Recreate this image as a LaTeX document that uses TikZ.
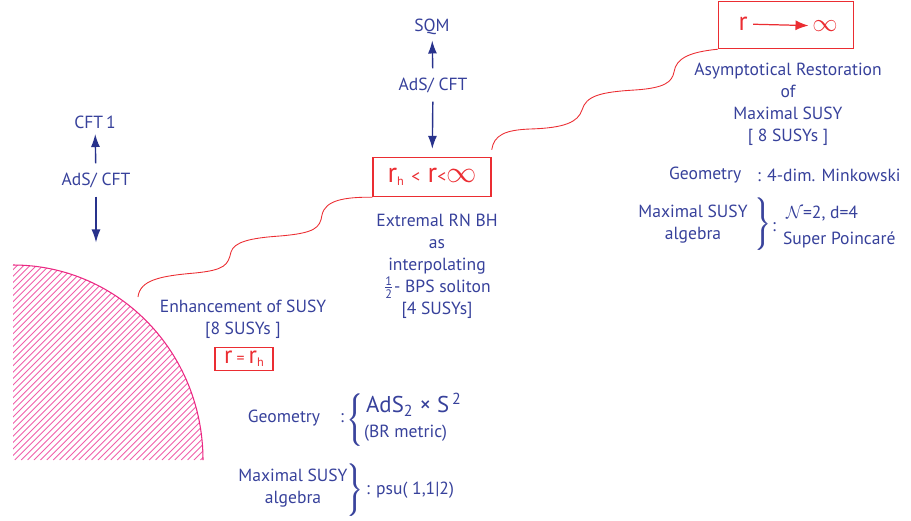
\documentclass[tikz,border=0pt]{standalone}
\usepackage{amsmath}
\usepackage{fontspec}
\setmainfont{PT Sans}
\usetikzlibrary{arrows.meta,positioning}
\definecolor{susyblue}{RGB}{55,65,155}
\definecolor{arrblue}{RGB}{40,50,140}
\definecolor{bhred}{RGB}{235,45,50}
\definecolor{hatchpink}{RGB}{235,40,130}
\definecolor{hatchlight}{RGB}{240,95,170}
\newcommand{\rsub}[1]{\raisebox{-1.5pt}{\fontsize{7}{7}\selectfont #1}}
\newcommand{\fatbrace}[1]{\rlap{$\Bigg#1$}\hspace{0.8pt}$\Bigg#1$}

\begin{document}
\begin{tikzpicture}[x=0.02cm, y=-0.02cm,
  lbl/.style={text=susyblue, font=\fontsize{10}{12.5}\selectfont, align=center, inner sep=1pt},
  rbox/.style={draw=bhred, line width=0.8pt, text=bhred, inner sep=0pt},
  adsarrow/.style={-{Latex[length=2.6mm,width=1.8mm]}, draw=arrblue, line width=0.8pt, shorten <=4pt, shorten >=2pt},
  wavy/.style={draw=bhred, line width=0.5pt},
  brc/.style={text=susyblue, inner sep=0pt}
]
\useasboundingbox (0,0) rectangle (911,520);

% near horizon region
\begin{scope}
  \clip (13,265) .. controls (118,265) and (203,352) .. (203,460) -- (13,460) -- cycle;
  \foreach \i in {0,...,64}
    \draw[hatchlight, line width=0.5pt] (-190+\i*6.4,460) -- ++(200,-200);
\end{scope}
\draw[hatchpink, line width=0.6pt] (13,265) .. controls (118,265) and (203,352) .. (203,460);

\node[lbl] (cft1) at (95,122) {CFT\,1};
\node[lbl] (adsl) at (96,180) {AdS/ CFT};
\coordinate (hor) at (96,246);
\draw[adsarrow] (adsl) -- (cft1);
\draw[adsarrow] (adsl) -- (hor);

\node[lbl] (enh) at (243,319) {Enhancement of SUSY\\{[}8 SUSYs ]};
\node[rbox, minimum width=1.16cm, minimum height=0.46cm] (rh) at (244,359)
  {\fontsize{14}{14}\selectfont r\,{\fontsize{9}{9}\selectfont =}\,r\rsub{h}};

\node[lbl] (geob) at (284,418) {Geometry};
\node[lbl] (colb) at (342,418) {:};
\node[brc] (brb) at (355,420) {\fatbrace\{};
\node[lbl, anchor=west, font=\fontsize{13}{13}\selectfont] (adss) at (364,405) {AdS\textsubscript{2} × S\textsuperscript{\,2}};
\node[lbl, anchor=west] (brm) at (362,433) {(BR metric)};

\node[lbl] (algb) at (293,488) {Maximal SUSY\\algebra};
\node[brc] (brcb) at (355,490) {\fatbrace\}};
\node[lbl, anchor=west] (psu) at (364,490) {: psu( 1,1|2)};

% interpolating soliton
\node[lbl] (sqm) at (432,27) {SQM};
\node[lbl] (adsm) at (433,85) {AdS/ CFT};
\node[rbox, minimum width=2.36cm, minimum height=0.78cm] (mid) at (432,177)
  {\fontsize{16}{16}\selectfont r\rsub{h}\ {\fontsize{10}{10}\selectfont<}\ r{\fontsize{10}{10}\selectfont<}$\infty$};
\draw[adsarrow] (adsm) -- (sqm);
\draw[adsarrow, shorten >=4.5pt] (adsm) -- (mid);

\node[lbl] (ext) at (437,266) {Extremal RN BH\\as\\interpolating\\$\tfrac{\text{1}}{\text{2}}$- BPS soliton\\{[}4 SUSYs]};

% asymptotic region
\node[rbox, minimum width=2.7cm, minimum height=0.94cm] (top) at (786,25) {};
\node[text=bhred, font=\fontsize{15}{15}\selectfont, inner sep=1pt] (rr) at (743,24) {r};
\node[text=bhred, font=\fontsize{15}{15}\selectfont, inner sep=1pt] (inf) at (825,26) {$\infty$};
\draw[-{Latex[length=2.6mm,width=2mm]}, bhred, line width=0.7pt, shorten <=2pt, shorten >=1pt] (rr) -- (inf);

\node[lbl] (asym) at (788,104) {Asymptotical Restoration\\of\\Maximal SUSY\\{[} 8 SUSYs ]};
\node[lbl, anchor=west] (geot) at (667,175) {Geometry};
\node[lbl, anchor=west] (mink) at (755,175) {: 4-dim. Minkowski};
\node[lbl] (algt) at (693,224) {Maximal SUSY\\algebra};
\node[brc] (brt) at (763,224) {\fatbrace\}};
\node[lbl] (colt) at (774,227) {:};
\node[lbl, anchor=west, align=left] (poin) at (781,227) {\,$\mathcal{N}$=2, d=4\\[2pt]Super Poincaré};

% connecting curves
\coordinate (w1) at (138,297);
\draw[wavy] (w1) .. controls (140,280) and (160,276) .. (195,273)
  .. controls (225,270) and (228,265) .. (231,252)
  .. controls (234,242) and (250,238) .. (280,236)
  .. controls (315,233) and (320,228) .. (322,215)
  .. controls (325,200) and (345,197) .. (mid.south west);
\draw[wavy] ([yshift=4pt]mid.north east) .. controls (494,135) and (505,130) .. (530,129)
  .. controls (565,128) and (578,122) .. (582,110)
  .. controls (586,96) and (600,92) .. (635,90)
  .. controls (665,88) and (672,82) .. (674,72)
  .. controls (676,58) and (690,52) .. (top.south west);
\end{tikzpicture}
\end{document}
